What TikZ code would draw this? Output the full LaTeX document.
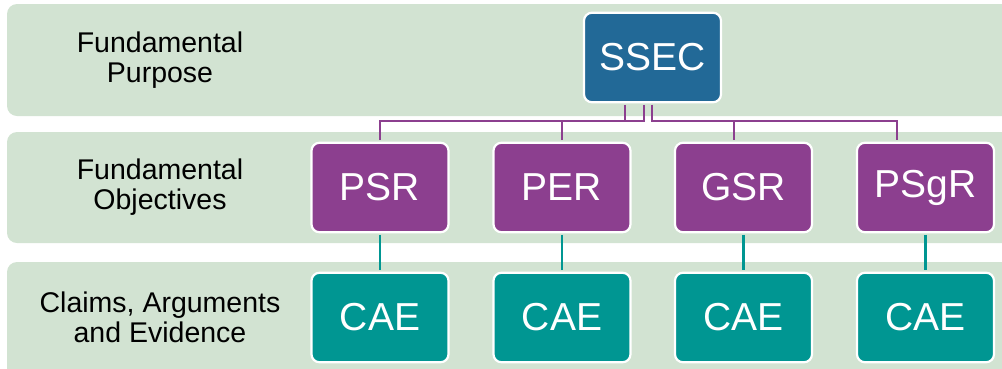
\documentclass[tikz,border=0pt]{standalone}
\usepackage{fontspec}
\setmainfont{Liberation Sans}
\usetikzlibrary{calc}
\definecolor{rowgreen}{RGB}{210,227,210}
\definecolor{boxblue}{RGB}{34,105,151}
\definecolor{boxpurple}{RGB}{140,63,143}
\definecolor{boxteal}{RGB}{0,150,146}
\tikzset{
  rowband/.style={fill=rowgreen, draw=none, rounded corners=10pt},
  rowlabel/.style={align=center, font=\fontsize{28.5}{30}\selectfont, text=black, inner sep=0pt},
  hbox/.style={draw=white, line width=2.2pt, rounded corners=8pt, minimum width=137pt, minimum height=89.5pt, text=white, font=\fontsize{39}{40}\selectfont, inner sep=0pt},
  topbox/.style={hbox, fill=boxblue},
  objbox/.style={hbox, fill=boxpurple},
  caebox/.style={hbox, fill=boxteal},
  pconn/.style={draw=boxpurple, line width=2.2pt},
  tconn/.style={draw=boxteal, line width=2.2pt}
}
\begin{document}
\begin{tikzpicture}[x=1pt, y=-1pt]
\useasboundingbox (0,0) rectangle (1002,368);
% row bands
\fill[rowband] (7,4) rectangle (1020,116);
\fill[rowband] (7,132) rectangle (1020,243);
\fill[rowband] (7,262) rectangle (1020,385);
% row labels
\node[rowlabel] (l1) at (160,60) {Fundamental\\Purpose};
\node[rowlabel] (l2) at (160,187) {Fundamental\\Objectives};
\node[rowlabel] (l3) at (160,317) {Claims, Arguments\\and Evidence};
% boxes
\node[topbox] (ssec) at (652.5,57.5) {SSEC};
\node[objbox] (psr) at (380,187.5) {PSR};
\node[objbox] (per) at (562,187.5) {PER};
\node[objbox] (gsr) at (743.5,187.5) {GSR};
\node[objbox] (psgr) at (925.5,187.5) {PSgR};
\node[caebox] (c1) at (380,317.5) {CAE};
\node[caebox] (c2) at (562,317.5) {CAE};
\node[caebox] (c3) at (743.5,317.5) {CAE};
\node[caebox] (c4) at (925.5,317.5) {CAE};
% connectors SSEC -> objectives
\draw[pconn, shorten <=1.5pt, shorten >=1.5pt] ([xshift=-27.5pt]ssec.south) -- ++(0,17.5) -| (psr.north);
\draw[pconn, shorten <=1.5pt, shorten >=1.5pt] ([xshift=-8.5pt]ssec.south) -- ++(0,17.5) -| (per.north);
\draw[pconn, shorten <=1.5pt, shorten >=1.5pt] ([xshift=-0.5pt]ssec.south) -- ++(0,18) -| ([xshift=-9.5pt]gsr.north);
\draw[pconn, shorten <=1.5pt, shorten >=1.5pt] ([xshift=-0.5pt]ssec.south) -- ++(0,18) -| ([xshift=-28.5pt]psgr.north);
% connectors objectives -> CAE
\draw[tconn, shorten <=1.5pt, shorten >=1.5pt] (psr.south) -- (c1.north);
\draw[tconn, shorten <=1.5pt, shorten >=1.5pt] (per.south) -- (c2.north);
\draw[tconn, shorten <=1.5pt, shorten >=1.5pt] (gsr.south) -- (c3.north);
\draw[tconn, shorten <=1.5pt, shorten >=1.5pt] (psgr.south) -- (c4.north);
\end{tikzpicture}
\end{document}
